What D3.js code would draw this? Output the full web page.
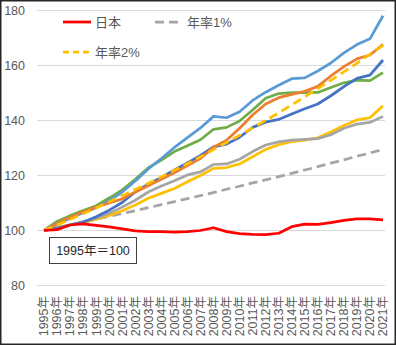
<!DOCTYPE html>
<html>
<head>
<meta charset="utf-8">
<script src="https://cdn.jsdelivr.net/npm/d3@7"></script>
<style>
  body { margin: 0; background: #fff; }
  text { font-family: "Liberation Sans", "Noto Sans CJK JP", sans-serif; }
</style>
</head>
<body>
<div id="chart"></div>
<script>
const years = d3.range(1995, 2022);
const yTicks = [80, 100, 120, 140, 160, 180];

// series values (1995 = 100)
const japan = [100, 100.3, 102.0, 102.4, 101.9, 101.3, 100.6, 99.9, 99.6, 99.6, 99.4, 99.6, 100.0, 101.0, 99.6, 98.9, 98.6, 98.5, 99.0, 101.4, 102.3, 102.2, 102.9, 103.7, 104.2, 104.2, 103.9];
const rate1 = [100, 101.0, 102.0, 103.0, 104.1, 105.1, 106.2, 107.2, 108.3, 109.4, 110.5, 111.6, 112.7, 113.8, 115.0, 116.1, 117.3, 118.4, 119.6, 120.8, 122.0, 123.2, 124.5, 125.7, 127.0, 128.2, 129.5];
const rate2 = [100, 102.0, 104.0, 106.1, 108.2, 110.4, 112.6, 114.9, 117.2, 119.5, 121.9, 124.3, 126.8, 129.4, 132.0, 134.6, 137.3, 140.0, 142.8, 145.7, 148.6, 151.6, 154.6, 157.7, 160.8, 164.1, 167.3];
const lightBlue = [100, 102.4, 104.5, 106.5, 108.3, 110.8, 114.0, 118.0, 122.4, 126.2, 130.2, 133.8, 137.3, 141.5, 141.0, 143.2, 147.3, 150.3, 152.8, 155.2, 155.5, 158.0, 160.9, 164.6, 167.6, 169.7, 178.1];
const green = [100, 103.3, 105.4, 107.3, 109.0, 111.8, 114.8, 118.6, 122.8, 125.6, 128.7, 130.8, 133.0, 136.8, 137.5, 139.8, 143.8, 148.1, 149.8, 150.1, 150.1, 150.2, 152.0, 153.7, 154.7, 154.5, 157.4];
const orange = [100, 102.5, 104.8, 106.8, 108.5, 110.0, 111.5, 114.0, 116.3, 118.6, 121.0, 123.6, 126.2, 130.3, 132.8, 137.2, 142.0, 146.0, 148.3, 149.5, 150.6, 152.4, 156.2, 159.6, 162.4, 163.8, 167.7];
const darkBlue = [100, 100.8, 102.0, 103.0, 105.0, 107.4, 110.2, 114.0, 116.8, 119.3, 122.0, 124.6, 127.3, 130.4, 131.4, 133.9, 137.5, 139.4, 140.4, 142.4, 144.3, 146.0, 149.0, 152.3, 155.3, 156.5, 162.0];
const gray = [100, 101.0, 102.1, 103.2, 104.4, 106.3, 108.5, 111.0, 114.0, 116.2, 118.1, 120.2, 121.3, 124.0, 124.2, 125.9, 128.7, 131.1, 132.2, 132.9, 133.1, 133.4, 134.8, 137.2, 138.7, 139.3, 141.5];
const yellow = [100, 101.2, 102.0, 102.9, 104.0, 105.5, 107.2, 109.3, 111.7, 113.5, 115.3, 117.7, 120.0, 122.6, 122.9, 124.2, 126.8, 129.5, 131.2, 132.3, 132.9, 133.7, 135.8, 138.2, 140.2, 141.0, 145.4];

const width = 396;
const height = 345;

const svg = d3.select('#chart').append('svg').attr('width', width).attr('height', height);

// outer frame
svg.append('rect')
  .attr('x', 0.75).attr('y', 0.75)
  .attr('width', width - 1.5).attr('height', height - 1.5)
  .attr('fill', '#fff')
  .attr('stroke', '#262626')
  .attr('stroke-width', 1.5);

const x = d3.scaleLinear().domain([1995, 2021]).range([44, 383]);
const y = d3.scaleLinear().domain([80, 180]).range([285.5, 10.5]);

// gridlines
svg.append('g')
  .selectAll('line')
  .data(yTicks)
  .enter()
  .append('line')
  .attr('x1', 37).attr('x2', 385)
  .attr('y1', d => y(d)).attr('y2', d => y(d))
  .attr('stroke', '#d9d9d9')
  .attr('stroke-width', 1);

// y labels
svg.append('g')
  .selectAll('text')
  .data(yTicks)
  .enter()
  .append('text')
  .attr('x', 25)
  .attr('y', d => y(d))
  .attr('dy', '0.35em')
  .attr('text-anchor', 'end')
  .attr('font-size', 12.5)
  .attr('fill', '#595959')
  .text(d => d);

// x labels (vertical)
svg.append('g')
  .selectAll('text')
  .data(years)
  .enter()
  .append('text')
  .attr('transform', d => 'translate(' + x(d) + ',296) rotate(-90)')
  .attr('dy', '0.35em')
  .attr('text-anchor', 'end')
  .attr('font-size', 12.5)
  .attr('fill', '#595959')
  .text(d => d + '年');

const line = d3.line()
  .x((d, i) => x(years[i]))
  .y(d => y(d));

const series = [
  { values: rate1, color: '#a5a5a5', dash: '9,5' },
  { values: yellow, color: '#ffc000' },
  { values: gray, color: '#a5a5a5' },
  { values: green, color: '#70ad47' },
  { values: lightBlue, color: '#5b9bd5' },
  { values: darkBlue, color: '#4472c4' },
  { values: orange, color: '#ed7d31' },
  { values: rate2, color: '#ffc000', dash: '9,5' },
  { values: japan, color: '#ff0000' },
];

svg.append('g')
  .selectAll('path')
  .data(series)
  .enter()
  .append('path')
  .attr('d', d => line(d.values))
  .attr('fill', 'none')
  .attr('stroke', d => d.color)
  .attr('stroke-width', 2.75)
  .attr('stroke-linejoin', 'round')
  .attr('stroke-dasharray', d => d.dash || null);

// legend
const legend = [
  { label: '日本', color: '#ff0000', lx: 63, ly: 22 },
  { label: '年率1%', color: '#a5a5a5', dash: '9,5', lx: 155, ly: 22 },
  { label: '年率2%', color: '#ffc000', dash: '6,4', lx: 63, ly: 52 },
];

const lg = svg.append('g')
  .selectAll('g')
  .data(legend)
  .enter()
  .append('g');

lg.append('line')
  .attr('x1', d => d.lx).attr('x2', d => d.lx + 28)
  .attr('y1', d => d.ly).attr('y2', d => d.ly)
  .attr('stroke', d => d.color)
  .attr('stroke-width', 2.75)
  .attr('stroke-dasharray', d => d.dash || null);

lg.append('text')
  .attr('x', d => d.lx + 32)
  .attr('y', d => d.ly)
  .attr('dy', '0.35em')
  .attr('font-size', 13)
  .attr('fill', '#595959')
  .text(d => d.label);

// base-year note
svg.append('rect')
  .attr('x', 49.5).attr('y', 237.5)
  .attr('width', 87).attr('height', 26)
  .attr('fill', '#fff')
  .attr('stroke', '#404040')
  .attr('stroke-width', 1);

svg.append('text')
  .attr('x', 93)
  .attr('y', 250.5)
  .attr('dy', '0.35em')
  .attr('text-anchor', 'middle')
  .attr('font-size', 12.5)
  .attr('fill', '#262626')
  .text('1995年＝100');
</script>
</body>
</html>
